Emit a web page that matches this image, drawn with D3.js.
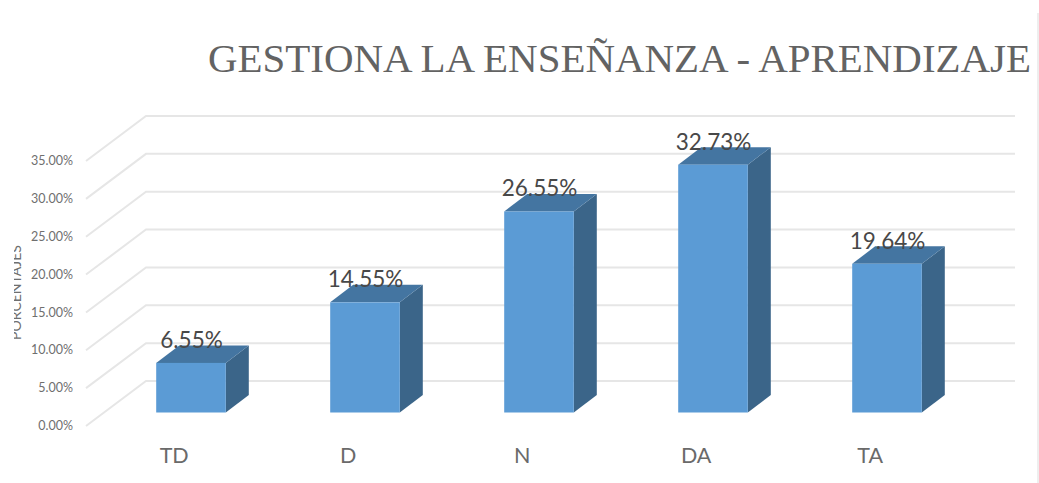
<!DOCTYPE html>
<html><head><meta charset="utf-8">
<script src="https://cdn.jsdelivr.net/npm/d3@7"></script>
<style>html,body{margin:0;padding:0;background:#fff}svg{display:block}</style>
</head><body><svg id="c" width="1039" height="483"></svg>
<script>
const categories = ["TD","D","N","DA","TA"];
const values = [6.55,14.55,26.55,32.73,19.64];
const valueLabels = ["6.55%","14.55%","26.55%","32.73%","19.64%"];
const ticks = [0,5,10,15,20,25,30,35];
const title = "GESTIONA LA ENSEÑANZA - APRENDIZAJE";
const axisTitle = "PORCENTAJES";

const svg = d3.select("#c");
const depth = {x:60,y:45};
const barDepth = {x:23,y:17.5};
const frontLeft = 86, backRight = 1015;
const y = d3.scaleLinear().domain([0,35]).range([426,161]);
const x = d3.scaleBand().domain(categories).range([104,974]).paddingInner(0.6).paddingOuter(0.3);
const floor = 412.5;
const h = v => y(0)-y(v);
const labelFont = "Lato";

svg.append("path").attr("fill","none").attr("stroke","#eeeeee").attr("stroke-width",2)
  .attr("d",d3.line()([[1038,13],[1038,483]]));

svg.append("text").attr("x",208).attr("y",72).attr("font-family","Liberation Serif")
  .attr("font-size",40).attr("fill","#636363").attr("textLength",823).attr("lengthAdjust","spacingAndGlyphs").text(title);

const grid = svg.append("g").attr("fill","none").attr("stroke","#e6e6e6").attr("stroke-width",2);
grid.selectAll("path").data(ticks).join("path")
  .attr("d",d=>d3.line()([[frontLeft,y(d)],[frontLeft+depth.x,y(d)-depth.y],[backRight,y(d)-depth.y]]));

svg.append("g").selectAll("text").data(ticks).join("text")
  .attr("x",73).attr("y",d=>y(d)).attr("dy","0.33em").attr("text-anchor","end")
  .attr("font-family",labelFont).attr("font-size",12.5).attr("fill","#6f6f6f")
  .text(d=>d.toFixed(2)+"%");

svg.append("defs").append("clipPath").attr("id","ac").append("rect")
  .attr("x",14).attr("y",240).attr("width",10).attr("height",105);
svg.append("g").attr("clip-path","url(#ac)").append("text")
  .attr("transform","translate(20.5,292.5) rotate(-90)").attr("text-anchor","middle")
  .attr("font-family",labelFont).attr("font-size",14).attr("fill","#6f6f6f").text(axisTitle);

const bars = svg.append("g").selectAll("g").data(categories).join("g");
const line = d3.line();
bars.append("path").attr("fill","#3b6589")
  .attr("d",(c,i)=>{const x1=x(c)+x.bandwidth(),t=floor-h(values[i]);
    return line([[x1,floor],[x1+barDepth.x,floor-barDepth.y],[x1+barDepth.x,t-barDepth.y],[x1,t]])+"Z";});
bars.append("path").attr("fill","#4475a1")
  .attr("d",(c,i)=>{const x0=x(c),x1=x0+x.bandwidth(),t=floor-h(values[i]);
    return line([[x0,t],[x0+barDepth.x,t-barDepth.y],[x1+barDepth.x,t-barDepth.y],[x1,t]])+"Z";});
bars.append("rect").attr("fill","#5b9bd5")
  .attr("x",c=>x(c)).attr("width",x.bandwidth())
  .attr("y",(c,i)=>floor-h(values[i])).attr("height",(c,i)=>h(values[i]));

bars.append("text").attr("x",c=>x(c)+x.bandwidth()/2+.5).attr("y",(c,i)=>floor-h(values[i])-15)
  .attr("text-anchor","middle").attr("font-family",labelFont).attr("font-size",22.5).attr("fill","#484848")
  .text((c,i)=>valueLabels[i]);

svg.append("g").selectAll("text").data(categories).join("text")
  .attr("x",c=>x(c)+18).attr("y",463).attr("text-anchor","middle").attr("font-family",labelFont).attr("font-size",21.5).attr("fill","#6a6a6a")
  .text(c=>c);
</script></body></html>
